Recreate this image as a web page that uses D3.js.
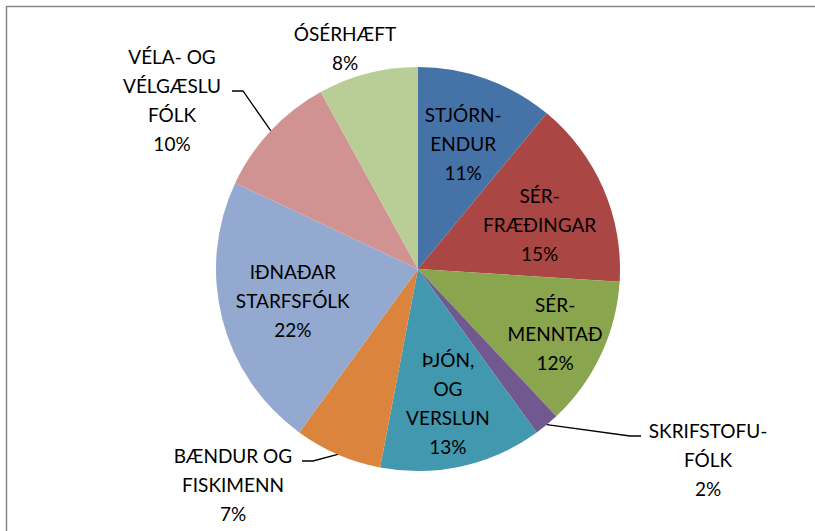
<!DOCTYPE html>
<html>
<head>
  <meta charset="utf-8">
  <title>Starfsstéttir</title>
  <script src="https://d3js.org/d3.v7.min.js"></script>
  <style>
    body { margin: 0; background: #fff; }
    text {
      font-family: Lato, "Open Sans", sans-serif;
      font-size: 19px;
      fill: #000;
    }
  </style>
</head>
<body>
<div id="chart"></div>
<script>
  // Slice names (one array entry per text line) and their shares in percent.
  const categories = [
    ["STJÓRN-", "ENDUR"],
    ["SÉR-", "FRÆÐINGAR"],
    ["SÉR-", "MENNTAÐ"],
    ["SKRIFSTOFU-", "FÓLK"],
    ["ÞJÓN,", "OG", "VERSLUN"],
    ["BÆNDUR OG", "FISKIMENN"],
    ["IÐNAÐAR", "STARFSFÓLK"],
    ["VÉLA- OG", "VÉLGÆSLU", "FÓLK"],
    ["ÓSÉRHÆFT"]
  ];
  const values = [11, 15, 12, 2, 13, 7, 22, 10, 8];
  const colors = ["#4572A7", "#AA4643", "#89A54E", "#71588F", "#4198AF",
                  "#DB843D", "#93A9CF", "#D19392", "#B9CD96"];

  const width = 815, height = 531;
  const cx = 418, cy = 269, radius = 202;
  const lineH = 29;

  // Where each label goes: k = fraction of radius along the slice middle
  // (da = small turn in degrees), otherwise a fixed spot outside the pie
  // with an optional leader line.
  const labelPlace = [
    {k: 0.66},
    {k: 0.64, da: 3.6},
    {k: 0.75},
    {x: 708, y: 460, elbow: [630, 436], end: [641, 436]},
    {k: 0.68},
    {x: 233, y: 485, elbow: [313, 461], end: [302, 461]},
    {k: 0.64},
    {x: 172, y: 100, elbow: [243, 91], end: [232, 91]},
    {x: 345, y: 48}
  ];

  const svg = d3.select("#chart").append("svg")
    .attr("width", width)
    .attr("height", height);

  // chart frame
  svg.append("rect")
    .attr("x", 6.5).attr("y", 6.5)
    .attr("width", width).attr("height", height)
    .attr("fill", "none")
    .attr("stroke", "#878787")
    .attr("stroke-width", 1.5);

  const pie = d3.pie().sort(null).value(d => d);
  const arcs = pie(values);
  const arc = d3.arc().innerRadius(0).outerRadius(radius);

  const g = svg.append("g").attr("transform", `translate(${cx},${cy})`);

  g.selectAll("path.slice")
    .data(arcs)
    .enter().append("path")
    .attr("class", "slice")
    .attr("d", arc)
    .attr("fill", (d, i) => colors[i]);

  // leader lines
  arcs.forEach((d, i) => {
    const p = labelPlace[i];
    if (!p.elbow) return;
    const mid = (d.startAngle + d.endAngle) / 2;
    const sx = cx + radius * Math.sin(mid);
    const sy = cy - radius * Math.cos(mid);
    svg.append("polyline")
      .attr("points", [[sx, sy], p.elbow, p.end].map(q => q.join(",")).join(" "))
      .attr("fill", "none")
      .attr("stroke", "#000")
      .attr("stroke-width", 1.3);
  });

  // labels
  arcs.forEach((d, i) => {
    const p = labelPlace[i];
    let x, y;
    if (p.k !== undefined) {
      const mid = (d.startAngle + d.endAngle) / 2 + (p.da || 0) * Math.PI / 180;
      x = cx + p.k * radius * Math.sin(mid);
      y = cy - p.k * radius * Math.cos(mid);
    } else {
      x = p.x; y = p.y;
    }
    const lines = categories[i].concat([values[i] + "%"]);
    const first = y - (lines.length - 1) * lineH / 2 + 7;
    const t = svg.append("text")
      .attr("text-anchor", "middle");
    lines.forEach((s, j) => {
      t.append("tspan")
        .attr("x", x)
        .attr("y", first + j * lineH)
        .text(s);
    });
  });
</script>
</body>
</html>
